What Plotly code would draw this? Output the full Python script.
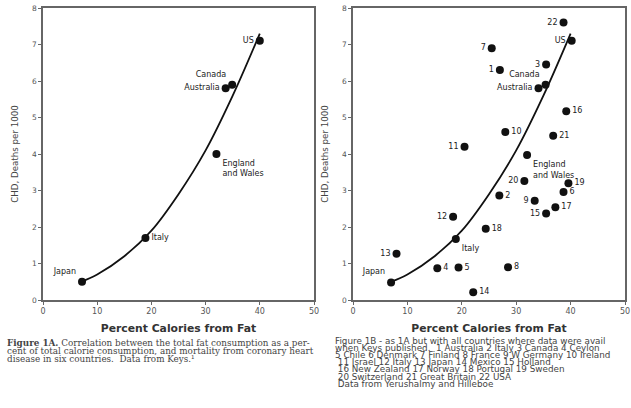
import plotly.graph_objects as go

# ---- Data: Figure 1A (six countries, Keys) ----
a_countries = ["Japan", "Italy", "England<br>and Wales", "Australia", "Canada", "US"]
a_fat = [7.2, 18.9, 32.0, 33.7, 34.9, 40.0]
a_chd = [0.50, 1.70, 4.00, 5.80, 5.90, 7.10]

# fitted curve
curve_fat = [7, 10, 15, 20, 25, 30, 35, 40]
curve_chd = [0.50, 0.70, 1.20, 1.90, 2.90, 4.10, 5.60, 7.30]

# ---- Data: Figure 1B (all countries, Yerushalmy & Hilleboe) ----
b_labels = ["22", "US", "7", "1", "3", "Canada", "Australia", "16", "10", "21",
            "11", "England<br>and Wales", "20", "19", "6", "2", "9", "17", "15",
            "12", "18", "Italy", "13", "4", "5", "8", "Japan", "14"]
b_fat = [38.7, 40.2, 25.5, 27.0, 35.5, 35.4, 34.1, 39.2, 28.0, 36.8,
         20.5, 32.0, 31.5, 39.6, 38.7, 26.9, 33.4, 37.2, 35.5,
         18.4, 24.4, 18.9, 8.0, 15.5, 19.4, 28.5, 7.0, 22.1]
b_chd = [7.60, 7.10, 6.90, 6.30, 6.45, 5.90, 5.80, 5.17, 4.60, 4.50,
         4.20, 3.97, 3.26, 3.20, 2.96, 2.86, 2.72, 2.54, 2.37,
         2.28, 1.95, 1.67, 1.27, 0.87, 0.89, 0.90, 0.48, 0.21]

x_ticks = [0, 10, 20, 30, 40, 50]
y_ticks = [0, 1, 2, 3, 4, 5, 6, 7, 8]

# label placement (style)
a_pos = ["top left", "middle right", "bottom right", "middle left", "top left", "middle left"]
b_pos = ["middle left", "middle left", "middle left", "middle left", "middle left", "top left",
         "middle left", "middle right", "middle right", "middle right", "middle left",
         "bottom right", "middle left", "middle right", "middle right", "middle right",
         "middle left", "middle right", "middle left", "middle left", "middle right",
         "bottom right", "middle left", "middle right", "middle right", "middle right",
         "top left", "middle right"]

fig = go.Figure()
lbl_font = dict(family="DejaVu Sans", size=8, color="#222")

for xa, ya in (("x", "y"), ("x2", "y2")):
    fig.add_trace(go.Scatter(x=curve_fat, y=curve_chd, mode="lines", line=dict(color="#111", width=1.8, shape="spline"),
                             xaxis=xa, yaxis=ya, showlegend=False, hoverinfo="skip"))

fig.add_trace(go.Scatter(x=a_fat, y=a_chd, mode="markers+text", text=a_countries, textposition=a_pos,
                         textfont=lbl_font, marker=dict(color="#111", size=8),
                         xaxis="x", yaxis="y", showlegend=False, cliponaxis=False))
fig.add_trace(go.Scatter(x=b_fat, y=b_chd, mode="markers+text", text=b_labels, textposition=b_pos,
                         textfont=lbl_font, marker=dict(color="#111", size=8),
                         xaxis="x2", yaxis="y2", showlegend=False, cliponaxis=False))

ax_common = dict(range=[0, 50], tickvals=x_ticks, ticks="outside", ticklen=3, tickcolor="#666",
                 showline=True, linecolor="#666", linewidth=1.5, mirror=True, showgrid=False, zeroline=False,
                 automargin=False,
                 tickfont=dict(family="DejaVu Sans", size=8, color="#555"),
                 title=dict(text="<b>Percent Calories from Fat</b>", standoff=9,
                            font=dict(family="DejaVu Sans", size=10.8, color="#333")))
ay_common = dict(range=[0, 8], tickvals=y_ticks, ticks="outside", ticklen=3, tickcolor="#666",
                 showline=True, linecolor="#666", linewidth=1.5, mirror=True, showgrid=False, zeroline=False,
                 automargin=False,
                 tickfont=dict(family="DejaVu Sans", size=7.5, color="#555"),
                 title=dict(text="CHD, Deaths per 1000", standoff=12,
                            font=dict(family="DejaVu Sans", size=8.7, color="#444")))

W, H = 631, 408
fig.update_layout(
    width=W, height=H, margin=dict(l=0, r=0, t=0, b=0),
    paper_bgcolor="white", plot_bgcolor="white",
    xaxis=dict(domain=[43 / W, 314 / W], anchor="y", **ax_common),
    yaxis=dict(domain=[1 - 300 / H, 1 - 8 / H], anchor="x", **ay_common),
    xaxis2=dict(domain=[353 / W, 625 / W], anchor="y2", **ax_common),
    yaxis2=dict(domain=[1 - 300 / H, 1 - 8 / H], anchor="x2", **ay_common),
)

cap_a = ["<b>Figure 1A.</b> Correlation between the total fat consumption as a per-",
         "cent of total calorie consumption, and mortality from coronary heart",
         "disease in six countries.  Data from Keys.¹"]
cap_b = ["Figure 1B - as 1A but with all countries where data were avail",
         "when Keys published.  1 Australia 2 Italy 3 Canada 4 Ceylon",
         "5 Chile 6 Denmark 7 Finland 8 France 9 W Germany 10 Ireland",
         " 11 Israel 12 Italy 13 Japan 14 Mexico 15 Holland",
         " 16 New Zealand 17 Norway 18 Portugal 19 Sweden",
         " 20 Switzerland 21 Great Britain 22 USA",
         " Data from Yerushalmy and Hilleboe"]

for i, line in enumerate(cap_a):
    fig.add_annotation(text=line, xref="paper", yref="paper", x=5 / W, y=1 - (343 + 8.0 * i) / H,
                       xanchor="left", yanchor="middle", showarrow=False,
                       font=dict(family="DejaVu Serif", size=8.8, color="#444"))
for i, line in enumerate(cap_b):
    fig.add_annotation(text=line, xref="paper", yref="paper", x=333 / W, y=1 - (341 + 7.1 * i) / H,
                       xanchor="left", yanchor="middle", showarrow=False,
                       font=dict(family="DejaVu Sans", size=8.8, color="#444"))

fig.write_html("out.html", config={"displayModeBar": False},
               post_script="document.body.style.margin='0';document.body.style.padding='0';")
